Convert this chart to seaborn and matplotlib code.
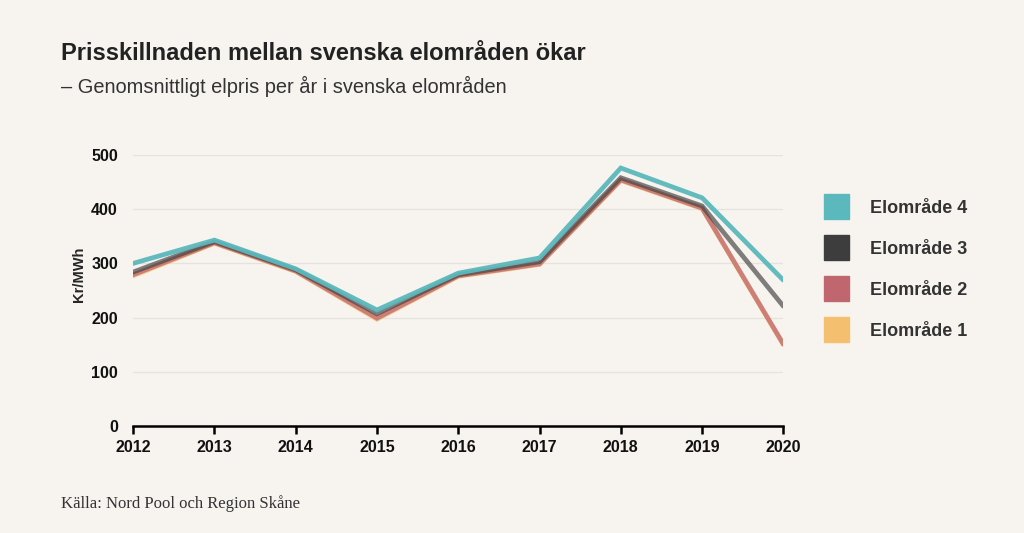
import pandas as pd
import matplotlib.pyplot as plt
import seaborn as sns
from matplotlib.lines import Line2D

# Données (Kr/MWh)
years = [2012, 2013, 2014, 2015, 2016, 2017, 2018, 2019, 2020]
se1 = [277, 337, 285, 197, 276, 298, 453, 401, 150]
se2 = [279, 338, 286, 199, 277, 299, 454, 402, 151]
se3 = [284, 340, 288, 207, 279, 303, 458, 406, 221]
se4 = [300, 343, 290, 214, 282, 310, 476, 421, 269]

labels = ["Elområde 1", "Elområde 2", "Elområde 3", "Elområde 4"]
colors = ["#f4c06f", "#c0666f", "#3d3d3d", "#5bb8bc"]
alphas = [0.8, 0.75, 0.65, 0.95]
bg = "#f7f4f0"

df = pd.DataFrame({"År": years, labels[0]: se1, labels[1]: se2,
                   labels[2]: se3, labels[3]: se4})
long = df.melt(id_vars="År", var_name="Område", value_name="Pris")

sns.set_theme(style="white")
plt.rcParams['font.family'] = ['Liberation Sans', 'DejaVu Sans']

fig = plt.figure(figsize=(10.24, 5.33), dpi=100, facecolor=bg)
ax = fig.add_axes([0.130, 0.2008, 0.635, 0.5084], facecolor=bg)

sns.lineplot(data=long, x="År", y="Pris", hue="Område", hue_order=labels,
             palette=colors, linewidth=3.4, ax=ax, legend=False)
for line, a in zip(ax.get_lines(), alphas):
    line.set_alpha(a)
    line.set_solid_joinstyle('miter')

ax.set_xlim(2012, 2020)
ax.set_ylim(0, 500)
ax.set_xticks(years)
ax.set_yticks([0, 100, 200, 300, 400, 500])
ax.set_xticklabels([str(y) for y in years], fontsize=11.5, fontweight='bold')
ax.set_yticklabels(["0", "100", "200", "300", "400", "500"], fontsize=11.5, fontweight='bold')
ax.yaxis.grid(True, color="#e6e3df", linewidth=0.9)
for s in ["top", "right", "left"]:
    ax.spines[s].set_visible(False)
ax.spines["bottom"].set_color("black")
ax.spines["bottom"].set_linewidth(1.8)
ax.tick_params(axis='x', bottom=True, direction='out', length=6, width=1.8,
               color='black', pad=4, labelcolor='#111111')
ax.tick_params(axis='y', left=False, length=0, pad=11, labelcolor='#111111')
ax.set_xlabel("")
ax.set_ylabel("Kr/MWh", fontsize=10.5, fontweight='bold')
ax.yaxis.set_label_coords(-0.072, 0.56)

# Légende (ordre inversé)
handles = [Line2D([0], [0], marker='s', linestyle='', markersize=18,
                  markerfacecolor=c, markeredgecolor=c) for c in colors[::-1]]
leg = fig.legend(handles, labels[::-1], loc='upper left', bbox_to_anchor=(0.783, 0.656),
                 frameon=False, labelspacing=1.33, handletextpad=0.9,
                 prop={'weight': 'bold', 'size': 13})
for t in leg.get_texts():
    t.set_color("#333333")

fig.text(0.060, 0.900, "Prisskillnaden mellan svenska elområden ökar",
         fontsize=17, fontweight='bold', color="#222222", va='center')
fig.text(0.060, 0.838, "– Genomsnittligt elpris per år i svenska elområden",
         fontsize=14.4, color="#333333", va='center')
fig.text(0.060, 0.055, "Källa: Nord Pool och Region Skåne",
         fontsize=12, color="#333333", family=['Liberation Serif', 'DejaVu Serif'], va='center')

fig.savefig("out.png", dpi=100, facecolor=bg)
